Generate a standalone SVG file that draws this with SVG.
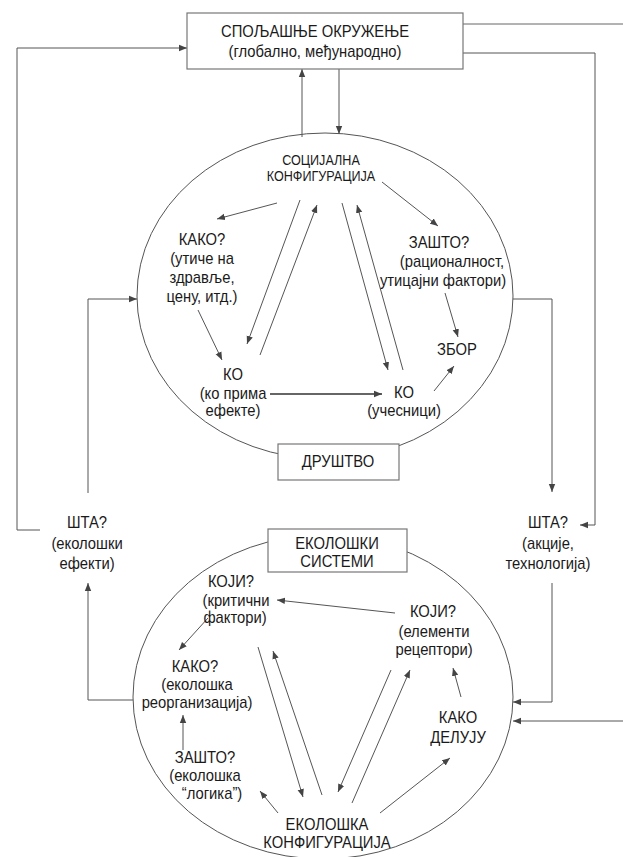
<svg xmlns="http://www.w3.org/2000/svg" width="623" height="857" viewBox="0 0 623 857">
<style>
text{font-family:"Liberation Sans",Arial,sans-serif;font-size:17px;fill:#1a1a1a;text-anchor:middle}
.s{font-size:14px}
.ln{fill:none;stroke:#666;stroke-width:1}
.ar{fill:none;stroke:#555;stroke-width:1;marker-end:url(#a)}
.box{fill:#fff;stroke:#777;stroke-width:1.2}
.el{fill:none;stroke:#555;stroke-width:1}
</style>
<defs>
<marker id="a" viewBox="0 0 10 10" refX="10" refY="5" markerWidth="8" markerHeight="8" markerUnits="userSpaceOnUse" orient="auto">
<path d="M0,1 L10,5 L0,9z" fill="#444"/>
</marker>
</defs>
<rect width="623" height="857" fill="#fff"/>

<g id="ellipses">
<ellipse class="el" cx="325" cy="296" rx="188" ry="163"/>
<ellipse class="el" cx="323" cy="697" rx="190" ry="162"/>
</g>

<g id="connectors">
<polyline class="ar" points="40,530 17,530 17,48 187,48"/>
<polyline class="ar" points="463,53 595,53 595,525 580,525"/>
<line class="ln" x1="463" y1="24" x2="623" y2="24"/>
<line class="ar" x1="302" y1="137" x2="302" y2="69"/>
<line class="ar" x1="339" y1="69" x2="339" y2="134"/>
<polyline class="ar" points="88,493 88,299 137,299"/>
<polyline class="ar" points="513,299 552,299 552,492"/>
<polyline class="ar" points="552,583 552,702 513,702"/>
<line class="ar" x1="623" y1="721" x2="513" y2="721"/>
<polyline class="ar" points="133,700 88,700 88,583"/>
<line class="ar" x1="277" y1="203" x2="217" y2="219"/>
<line class="ar" x1="382" y1="182" x2="438" y2="226"/>
<line class="ar" x1="300" y1="200" x2="247" y2="344"/>
<line class="ar" x1="260" y1="355" x2="317" y2="205"/>
<line class="ar" x1="342" y1="203" x2="388" y2="370"/>
<line class="ar" x1="403" y1="370" x2="357" y2="205"/>
<line class="ar" x1="198" y1="310" x2="222" y2="360"/>
<line class="ar" x1="445" y1="293" x2="458" y2="337"/>
<line class="ar" x1="434" y1="391" x2="454" y2="366"/>
<line class="ar" x1="270" y1="394" x2="382" y2="394" style="stroke:#333;stroke-width:1.6"/>
<line class="ar" x1="395" y1="613" x2="277" y2="600"/>
<line class="ar" x1="208" y1="618" x2="179" y2="650"/>
<line class="ar" x1="183" y1="750" x2="183" y2="715"/>
<line class="ar" x1="278" y1="813" x2="260" y2="791"/>
<line class="ar" x1="258" y1="647" x2="303" y2="797"/>
<line class="ar" x1="322" y1="795" x2="273" y2="651"/>
<line class="ar" x1="391" y1="670" x2="338" y2="792"/>
<line class="ar" x1="352" y1="803" x2="410" y2="670"/>
<line class="ar" x1="461" y1="697" x2="453" y2="668"/>
<line class="ar" x1="380" y1="813" x2="450" y2="758"/>
</g>

<g id="spoljasnje">
<rect class="box" x="187" y="13" width="276" height="56"/>
<text transform="translate(315,37) scale(.87,1)">СПОЉАШЊЕ ОКРУЖЕЊЕ</text>
<text transform="translate(315,57) scale(.87,1)">(глобално, међународно)</text>
</g>

<g id="drustvo">
<rect class="box" x="278" y="444" width="121" height="36"/>
<text transform="translate(338,467) scale(.87,1)">ДРУШТВО</text>
</g>

<g id="ekoloski-sistemi">
<rect class="box" x="268" y="529" width="139" height="43"/>
<text transform="translate(337,549) scale(.87,1)">ЕКОЛОШКИ</text>
<text transform="translate(337,567) scale(.87,1)">СИСТЕМИ</text>
</g>

<g id="socijalna">
<text class="s" transform="translate(321,165) scale(.9,1)">СОЦИЈАЛНА</text>
<text class="s" transform="translate(321,181) scale(.9,1)">КОНФИГУРАЦИЈА</text>
</g>

<g id="kako-gore">
<text transform="translate(202,245) scale(.87,1)">КАКО?</text>
<text transform="translate(202,264) scale(.87,1)">(утиче на</text>
<text transform="translate(202,283) scale(.87,1)">здравље,</text>
<text transform="translate(202,302) scale(.87,1)">цену, итд.)</text>
</g>

<g id="zasto-gore">
<text transform="translate(439,248) scale(.87,1)">ЗАШТО?</text>
<text transform="translate(452,267) scale(.87,1)">(рационалност,</text>
<text transform="translate(443,286) scale(.87,1)">утицајни фактори)</text>
</g>

<g id="ko-prima">
<text transform="translate(233,380) scale(.87,1)">КО</text>
<text transform="translate(233,399) scale(.87,1)">(ко прима</text>
<text transform="translate(233,416) scale(.87,1)">ефекте)</text>
</g>

<g id="ko-ucesnici">
<text transform="translate(404,398) scale(.87,1)">КО</text>
<text transform="translate(404,416) scale(.87,1)">(учесници)</text>
</g>

<g id="zbor">
<text transform="translate(457,355) scale(.87,1)">ЗБОР</text>
</g>

<g id="sta-levo">
<text transform="translate(87,528) scale(.87,1)">ШТА?</text>
<text transform="translate(87,549) scale(.87,1)">(еколошки</text>
<text transform="translate(87,569) scale(.87,1)">ефекти)</text>
</g>

<g id="sta-desno">
<text transform="translate(548,528) scale(.87,1)">ШТА?</text>
<text transform="translate(548,549) scale(.87,1)">(акције,</text>
<text transform="translate(548,569) scale(.87,1)">технологија)</text>
</g>

<g id="koji-levo">
<text transform="translate(231,587) scale(.87,1)">КОЈИ?</text>
<text transform="translate(236,606) scale(.87,1)">(критични</text>
<text transform="translate(235,623) scale(.87,1)">фактори)</text>
</g>

<g id="koji-desno">
<text transform="translate(433,617) scale(.87,1)">КОЈИ?</text>
<text transform="translate(434,637) scale(.87,1)">(елементи</text>
<text transform="translate(434,655) scale(.87,1)">рецептори)</text>
</g>

<g id="kako-dole">
<text transform="translate(195,672) scale(.87,1)">КАКО?</text>
<text transform="translate(197,690) scale(.87,1)">(еколошка</text>
<text transform="translate(197,708) scale(.87,1)">реорганизација)</text>
</g>

<g id="zasto-dole">
<text transform="translate(205,763) scale(.87,1)">ЗАШТО?</text>
<text transform="translate(205,781) scale(.87,1)">(еколошка</text>
<text transform="translate(212,799) scale(.87,1)">“логика”)</text>
</g>

<g id="kako-deluju">
<text transform="translate(458,723) scale(.87,1)">КАКО</text>
<text transform="translate(458,743) scale(.87,1)">ДЕЛУЈУ</text>
</g>

<g id="ekoloska-konfiguracija">
<text transform="translate(327,830) scale(.87,1)">ЕКОЛОШКА</text>
<text transform="translate(327,848) scale(.87,1)">КОНФИГУРАЦИЈА</text>
</g>
</svg>
